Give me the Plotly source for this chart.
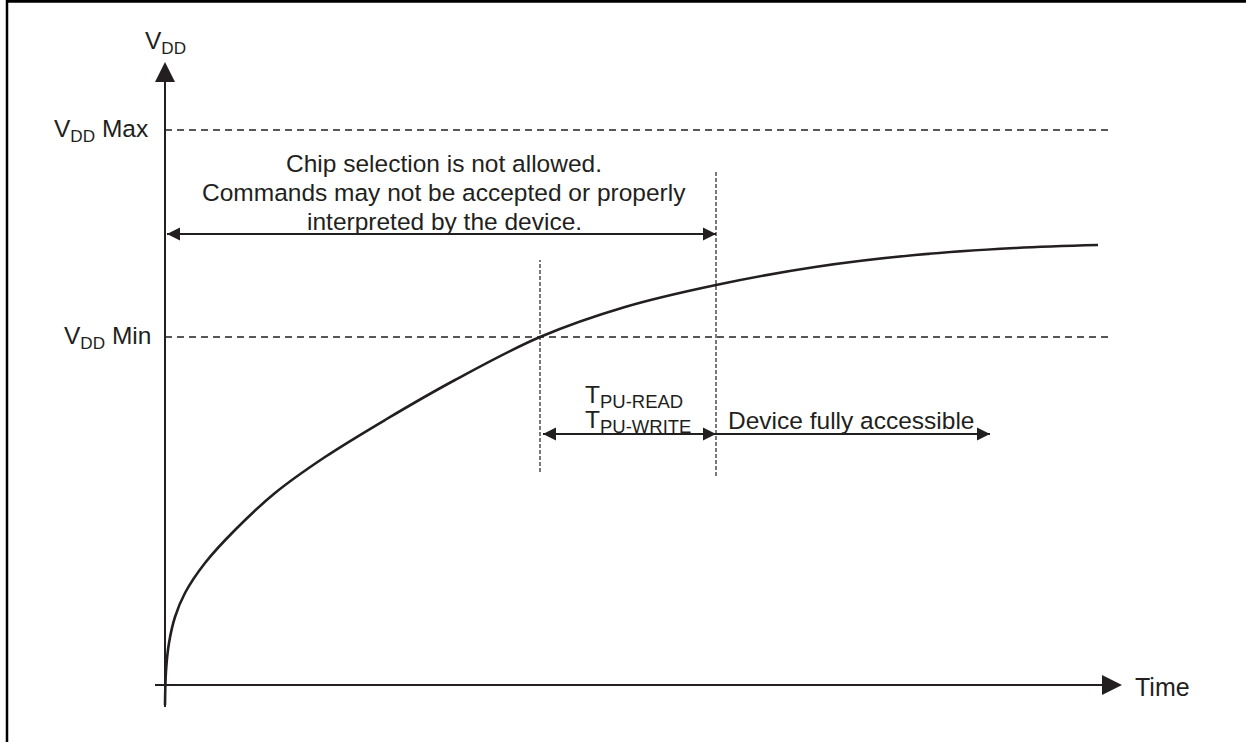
import plotly.graph_objects as go

# ---- data (time units / voltage units, arbitrary) ----
curve_t = [0, 1, 4, 10, 20, 40, 70, 110, 160, 220, 290, 375, 460, 551, 650, 750, 850, 933]
curve_v = [-20, 14, 42, 68, 92, 122, 155, 192, 228, 265, 305, 348, 378, 400, 418, 430, 437, 440]

vdd_max = 555
vdd_min = 348
t_cross_min = 375       # time the curve crosses VDD Min
t_pu_end = 551          # end of TPU-READ / TPU-WRITE
t_access_end = 825      # end of "device fully accessible" arrow
t_axis_end = 957        # time-axis arrow tip
t_level_end = 948       # end of the dashed VDD lines
v_axis_top = 623        # VDD-axis arrow tip
v_axis_bottom = -22
t_axis_start = -10

v_chip_arrow = 451
v_pu_arrow = 251
guide1_v = [213, 425]
guide2_v = [209, 513]

chip_lines = ["Chip selection is not allowed.",
              "Commands may not be accepted or properly",
              "interpreted by the device."]
chip_line_v = [522, 493, 464]

INK = "#231f20"
FONT = "Liberation Sans, Arial, sans-serif"
FS = 24.5

fig = go.Figure()

def line(x, y, width=2, dash="solid", color=INK):
    fig.add_trace(go.Scatter(x=x, y=y, mode="lines",
                             line=dict(color=color, width=width, dash=dash),
                             hoverinfo="skip", showlegend=False))

def head(x, y, symbol, size):
    fig.add_trace(go.Scatter(x=[x], y=[y], mode="markers",
                             marker=dict(symbol=symbol, size=size, color=INK,
                                         line=dict(width=0)),
                             hoverinfo="skip", showlegend=False))

# axes
line([0, 0], [v_axis_bottom, v_axis_top - 10], width=2)
head(0, v_axis_top, "arrow-up", 20)
line([t_axis_start, t_axis_end - 10], [0, 0], width=2)
head(t_axis_end, 0, "arrow-right", 20)

# VDD levels
line([0, t_level_end], [vdd_max, vdd_max], width=1.5, dash="7px,5px")
line([0, t_level_end], [vdd_min, vdd_min], width=1.5, dash="7px,5px")

# guides
line([t_cross_min, t_cross_min], guide1_v, width=1.2, dash="4px,2px")
line([t_pu_end, t_pu_end], guide2_v, width=1.2, dash="4px,2px")

# curve
fig.add_trace(go.Scatter(x=curve_t, y=curve_v, mode="lines",
                         line=dict(color=INK, width=2.6, shape="spline", smoothing=1.0),
                         hoverinfo="skip", showlegend=False))

# chip arrow
line([2, t_pu_end], [v_chip_arrow, v_chip_arrow], width=2)
head(2, v_chip_arrow, "arrow-left", 13)
head(t_pu_end, v_chip_arrow, "arrow-right", 13)

# TPU arrow and accessible arrow
line([t_cross_min + 3, t_access_end], [v_pu_arrow, v_pu_arrow], width=2)
head(t_cross_min + 3, v_pu_arrow, "arrow-left", 13)
head(t_pu_end, v_pu_arrow, "arrow-right", 13)
head(t_access_end, v_pu_arrow, "arrow-right", 13)

annotations = []
def text(x, y, s, xanchor="center", size=FS):
    annotations.append(dict(x=x, y=y, text=s, showarrow=False, xanchor=xanchor,
                            yanchor="middle", font=dict(family=FONT, size=size, color=INK)))

SUB_PU = "<sub><span style='font-size:18.5px'>%s</span></sub>"

text(0, 643, "V<sub>DD</sub>")
text(-15, vdd_max, "V<sub>DD</sub> Max", xanchor="right")
text(-12, vdd_min, "V<sub>DD</sub> Min", xanchor="right")
text(968, -2, "Time", xanchor="left", size=25)
for s, v in zip(chip_lines, chip_line_v):
    text(279, v, s)
text(418, 289, "T" + SUB_PU % "PU-READ", xanchor="left")
text(418, 264, "T" + SUB_PU % "PU-WRITE", xanchor="left")
text(561, 265, "Device fully accessible", xanchor="left")

fig.update_layout(
    width=1246, height=742,
    margin=dict(l=0, r=0, t=0, b=0),
    paper_bgcolor="white", plot_bgcolor="white",
    font=dict(family=FONT, size=FS, color=INK),
    xaxis=dict(range=[-165, 1081], visible=False, fixedrange=True),
    yaxis=dict(range=[-57, 685], visible=False, fixedrange=True),
    annotations=annotations,
    shapes=[
        dict(type="line", xref="paper", yref="paper", x0=7/1246, x1=7/1246, y0=0, y1=1,
             line=dict(color="black", width=2.5)),
        dict(type="line", xref="paper", yref="paper", x0=7/1246, x1=1, y0=1 - 1.2/742, y1=1 - 1.2/742,
             line=dict(color="black", width=3)),
    ],
)

fig.write_html("out.html", config={"displayModeBar": False},
               post_script="document.body.style.margin='0';")
